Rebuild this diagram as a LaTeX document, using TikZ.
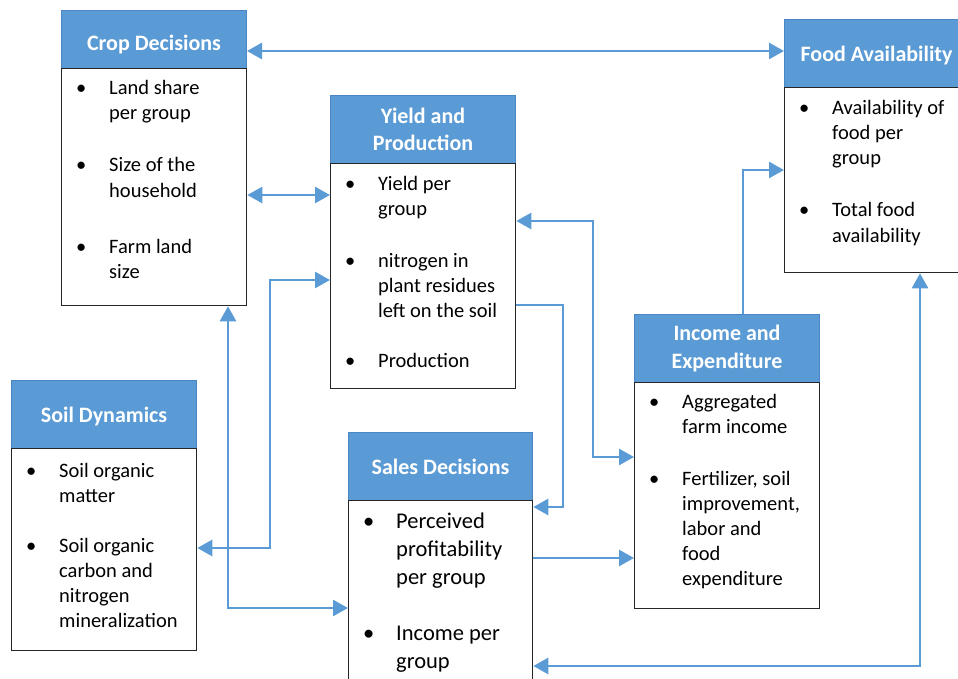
\documentclass[tikz,border=0pt]{standalone}
\usepackage{fontspec}
\setmainfont{Carlito}
\usetikzlibrary{arrows.meta}
\definecolor{hdblue}{HTML}{5B9BD5}
\definecolor{hdedge}{HTML}{4A86C5}
\definecolor{linkblue}{HTML}{5B9BD5}
\definecolor{boxedge}{HTML}{262626}

\tikzset{
  hd/.style={draw=hdedge, line width=1pt, fill=hdblue, text=white,
    font=\fontsize{22}{27.5}\selectfont\bfseries, align=center,
    anchor=north west, minimum width=185pt, inner sep=0pt},
  bd/.style={draw=boxedge, line width=1.3pt, fill=white,
    anchor=north west, minimum width=185pt, inner sep=0pt},
  itm/.style={anchor=base west, inner sep=0pt, font=\fontsize{20.5}{25}\selectfont},
  itmlarge/.style={font=\fontsize{22.5}{28}\selectfont},
  link/.style={draw=linkblue, line width=2.6pt, line join=miter},
  oneway/.style={-{Triangle[length=15pt,width=16pt]}},
  twoway/.style={{Triangle[length=15pt,width=16pt]}-{Triangle[length=15pt,width=16pt]}}
}

% bullet item: [extra style]{name}{base point}{lines}
\newcommand\bitem[4][]{%
  \node[itm,#1] (#2) at (#3) {\makebox[33pt][l]{\textbullet}\parbox[t]{150pt}{#4}};}
% header title lowered inside its bar, keeping the box size
\newcommand\lowered[2]{\raisebox{-#1}[\height][\depth]{#2}}

\begin{document}
\begin{tikzpicture}[x=1pt,y=-1pt]
\fill[white] (0,0) rectangle (958,679);
\useasboundingbox (0,0) rectangle (958,679);
\clip (0,0) rectangle (958,679);

% bend points of the connectors
\coordinate (ya) at (0,51);
\coordinate (yb) at (0,195);
\coordinate (c1) at (270,548);
\coordinate (c2) at (270,280);
\coordinate (d1) at (228,608);
\coordinate (e1) at (563,305);
\coordinate (e2) at (563,507);
\coordinate (f1) at (593,221);
\coordinate (f2) at (593,457);
\coordinate (g1) at (0,558);
\coordinate (h1) at (743,170);
\coordinate (i1) at (920,666);

% headers
\node[hd, minimum height=58pt] (crophead) at (61,10) {\lowered{5pt}{Crop Decisions}};
\node[hd, minimum height=68pt] (yieldhead) at (330,95) {Yield and\\Production};
\node[hd, minimum height=68pt, minimum width=184pt] (foodhead) at (784,19) {\lowered{2pt}{Food Availability}};
\node[hd, minimum height=68pt] (soilhead) at (11,380) {\lowered{2.5pt}{Soil Dynamics}};
\node[hd, minimum height=68pt, minimum width=184pt] (saleshead) at (348,432) {Sales Decisions};
\node[hd, minimum height=68pt] (incomehead) at (634,314) {Income and\\Expenditure};

% bodies
\node[bd, minimum height=237pt] (cropbody) at (61,68) {};
\node[bd, minimum height=225pt] (yieldbody) at (330,163) {};
\node[bd, minimum height=185pt, minimum width=184pt] (foodbody) at (784,87) {};
\node[bd, minimum height=202pt] (soilbody) at (11,448) {};
\node[bd, minimum height=240pt, minimum width=184pt] (salesbody) at (348,500) {};
\node[bd, minimum height=226pt] (incomebody) at (634,382) {};

% connectors
\draw[link,twoway] (crophead.east |- ya) -- (foodhead.west |- ya);
\draw[link,twoway] (cropbody.east |- yb) -- (yieldbody.west |- yb);
\draw[link,twoway] (soilbody.east |- c1) -- (c1) -- (c2) -- (yieldbody.west |- c2);
\draw[link,twoway] (cropbody.south -| d1) -- (d1) -- (salesbody.west |- d1);
\draw[link,oneway] (yieldbody.east |- e1) -- (e1) -- (e2) -- (salesbody.east |- e2);
\draw[link,twoway] (yieldbody.east |- f1) -- (f1) -- (f2) -- (incomebody.west |- f2);
\draw[link,oneway] (salesbody.east |- g1) -- (incomebody.west |- g1);
\draw[link,oneway] (incomehead.north -| h1) -- (h1) -- (foodbody.west |- h1);
\draw[link,twoway] (salesbody.east |- i1) -- (i1) -- (foodbody.south -| i1);

% list items
\bitem{crop1}{76,95}{Land share\\per group}
\bitem{crop2}{76,172}{Size of the\\household}
\bitem{crop3}{76,253}{Farm land\\size}

\bitem{yield1}{345,190}{Yield per\\group}
\bitem{yield2}{345,267}{nitrogen in\\plant residues\\left on the soil}
\bitem{yield3}{345,367}{Production}

\bitem{food1}{799,115}{Availability of\\food per\\group}
\bitem{food2}{799,217}{Total food\\availability}

\bitem{soil1}{26,477}{Soil organic\\matter}
\bitem{soil2}{26,552}{Soil organic\\carbon and\\nitrogen\\mineralization}

\bitem[itmlarge]{sales1}{363,528}{Perceived\\profitability\\per group}
\bitem[itmlarge]{sales2}{363,640}{Income per\\group}

\bitem{income1}{649,408}{Aggregated\\farm income}
\bitem{income2}{649,485}{Fertilizer, soil\\improvement,\\labor and\\food\\expenditure}
\end{tikzpicture}
\end{document}
